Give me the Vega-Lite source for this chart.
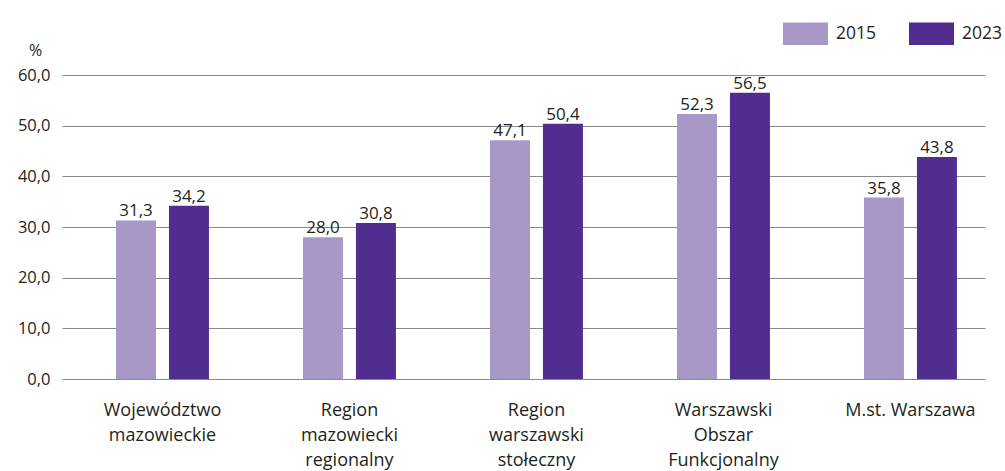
{
  "$schema": "https://vega.github.io/schema/vega-lite/v6.json",
  "width": 923,
  "height": 304,
  "autosize": "none",
  "padding": {"left": 62, "top": 75, "right": 20, "bottom": 92},
  "config": {
    "locale": {"number": {"decimal": ",", "thousands": " ", "grouping": [3], "currency": ["", " zł"]}},
    "view": {"stroke": null},
    "font": "Open Sans",
    "text": {"color": "#231F20"}
  },
  "data": {
    "values": [
      {"region": "Województwo|mazowieckie", "year": "2015", "value": 31.3},
      {"region": "Województwo|mazowieckie", "year": "2023", "value": 34.2},
      {"region": "Region|mazowiecki|regionalny", "year": "2015", "value": 28.0},
      {"region": "Region|mazowiecki|regionalny", "year": "2023", "value": 30.8},
      {"region": "Region|warszawski|stołeczny", "year": "2015", "value": 47.1},
      {"region": "Region|warszawski|stołeczny", "year": "2023", "value": 50.4},
      {"region": "Warszawski|Obszar|Funkcjonalny", "year": "2015", "value": 52.3},
      {"region": "Warszawski|Obszar|Funkcjonalny", "year": "2023", "value": 56.5},
      {"region": "M.st. Warszawa", "year": "2015", "value": 35.8},
      {"region": "M.st. Warszawa", "year": "2023", "value": 43.8}
    ]
  },
  "encoding": {
    "x": {
      "field": "region", "type": "nominal", "sort": null,
      "scale": {"paddingInner": 0.503, "paddingOuter": 0.2195, "align": 0.658},
      "axis": {
        "title": null, "domain": false, "ticks": false, "labelAngle": 0,
        "labelExpr": "split(datum.label, '|')",
        "labelFontSize": 18, "labelColor": "#231F20", "labelLineHeight": 25,
        "labelPadding": 22, "labelFont": "Open Sans"
      }
    },
    "xOffset": {"field": "year", "type": "nominal", "scale": {"paddingInner": 0.245, "paddingOuter": 0}},
    "y": {
      "field": "value", "type": "quantitative",
      "scale": {"domain": [0, 60], "nice": false},
      "axis": {
        "values": [0, 10, 20, 30, 40, 50, 60], "format": ".1f",
        "domain": false, "ticks": false, "grid": true, "gridColor": "#8a8a8a", "gridWidth": 1,
        "labelFontSize": 16.5, "labelColor": "#231F20", "labelPadding": 12,
        "title": "%", "titleAngle": 0, "titleFontWeight": "normal", "titleFontSize": 16,
        "titleColor": "#231F20", "titleX": -27, "titleY": -20, "titleAlign": "center", "titleBaseline": "alphabetic"
      }
    }
  },
  "layer": [
    {
      "mark": {"type": "bar"},
      "encoding": {
        "color": {
          "field": "year", "type": "nominal",
          "scale": {"domain": ["2015", "2023"], "range": ["#A898C8", "#502D8E"]},
          "legend": {
            "title": null, "orient": "none", "legendX": 721, "legendY": -64,
            "direction": "horizontal",
            "symbolType": "M-1,-0.5H1V0.5H-1Z", "symbolSize": 2025,
            "symbolStrokeWidth": 0, "symbolOpacity": 1,
            "labelFontSize": 17.5, "labelColor": "#231F20", "labelOffset": 8,
            "columnPadding": 32, "padding": 0
          }
        }
      }
    },
    {
      "mark": {"type": "text", "baseline": "alphabetic", "dy": -4, "fontSize": 17},
      "encoding": {
        "text": {"field": "value", "type": "quantitative", "format": ".1f"}
      }
    }
  ]
}
